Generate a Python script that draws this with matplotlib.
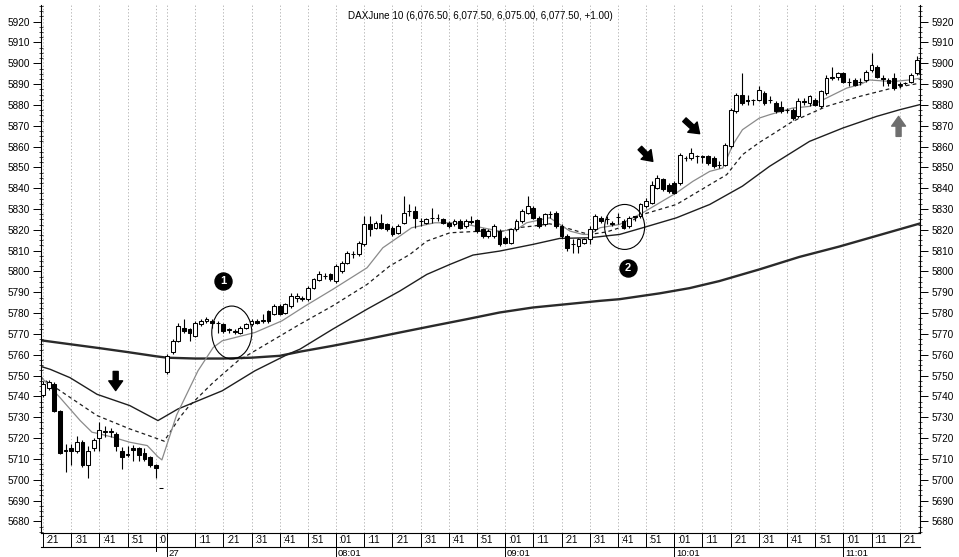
import matplotlib
matplotlib.use('Agg')
import matplotlib.pyplot as plt
from matplotlib.patches import Ellipse
from matplotlib.ticker import MultipleLocator

plt.rcParams['font.family'] = ['Liberation Sans', 'DejaVu Sans']

# ---------------- data ----------------
bar_index = list(range(-22, 134))   # 2-minute bars; 0 = first bar of the new day (07:01)

opens = [5740.5, 5744, 5746, 5733, 5714, 5715, 5714, 5718, 5707, 5715, 5720, 5723, 5723, 5722, 5714, 5712, 5715, 5715, 5713, 5711, 5707, 5696,
         5751.5, 5761.1, 5766.7, 5773, 5772.3, 5769.1, 5774.7, 5776.3, 5776.3, 5775.5,
         5774.7, 5772, 5771, 5770.7, 5773.1, 5774.7, 5776.3, 5776.3, 5781, 5779.5,
         5783.4, 5780.2, 5783.4, 5787.5, 5787, 5786.7, 5792.3, 5796, 5797.8, 5798.6,
         5795.4, 5800.2, 5804.2, 5808.2, 5808.2, 5813, 5822.6, 5821, 5823.4, 5822.6,
         5821, 5818.6, 5823.4, 5829, 5829, 5824.2, 5823.4, 5825.8, 5825.6, 5825,
         5823.4, 5822.6, 5824.2, 5821.8, 5824.2, 5824.5, 5820.2, 5817, 5817, 5819.4,
         5816.2, 5813.8, 5820.2, 5824.2, 5828.2, 5830.6, 5825.8, 5822.6, 5827.4, 5828.2,
         5821.8, 5817, 5813, 5812.2, 5813.8, 5815.4, 5820.2, 5825.8, 5825, 5823.4,
         5826, 5824.2, 5821.8, 5826.6, 5826.6, 5831.4, 5833, 5840.2, 5844.2, 5841.7,
         5842.5, 5842.5, 5854.5, 5854.5, 5855.3, 5855.3, 5855.3, 5854.5, 5851.3, 5851.3,
         5860.1, 5876.9, 5884.9, 5882.5, 5882.5, 5882.5, 5885.7, 5882.5, 5880.9, 5878.8,
         5877.7, 5877.7, 5874.5, 5881.7, 5880.9, 5882.5, 5879.3, 5885.7, 5893.6, 5893.6,
         5895.2, 5891.2, 5892, 5890.8, 5892, 5896.8, 5898.4, 5892.8, 5892, 5892.8,
         5889.7, 5890.4, 5891.2, 5895.2]
highs = [5747.5, 5748, 5747, 5733.5, 5717, 5717, 5721, 5719, 5716, 5720, 5727.5, 5726, 5725, 5723, 5715.5, 5716, 5716.5, 5715.5, 5715, 5711.5, 5707.5, 5696,
         5760.3, 5767.5, 5775.5, 5777.1, 5773.1, 5776.3, 5777.1, 5778, 5777.1, 5776,
         5775.5, 5773.1, 5772.3, 5774, 5775.5, 5777.1, 5777.1, 5779.5, 5781.5, 5784.2,
         5784.2, 5785, 5789.8, 5789.5, 5788.3, 5793.1, 5797, 5800.2, 5799.4, 5799.4,
         5803.4, 5805, 5809.8, 5809.8, 5814.6, 5826.6, 5826.6, 5824.2, 5827.4, 5823.4,
         5821.8, 5822.6, 5836.2, 5832.2, 5831.4, 5825.8, 5825.8, 5830.6, 5827.4, 5825.8,
         5824.2, 5825, 5825, 5825, 5826.6, 5825, 5821, 5820.2, 5822.6, 5820.2,
         5817, 5821, 5825, 5829.8, 5836.2, 5831.4, 5826.6, 5828.2, 5829, 5829,
         5822.6, 5817.8, 5815.4, 5816.2, 5816.2, 5821.8, 5827.4, 5826.6, 5826.6, 5824.2,
         5828.2, 5825, 5826.6, 5826.8, 5833, 5835.4, 5843.3, 5846.5, 5845, 5842.5,
         5843.3, 5856.9, 5855.3, 5859.3, 5856.1, 5856.1, 5856.1, 5855.3, 5852.9, 5861.7,
         5878.5, 5885.7, 5895.3, 5884.9, 5882.8, 5888.9, 5886.5, 5884.1, 5881.7, 5881.7,
         5878.5, 5878.5, 5883.3, 5883.3, 5884.9, 5883.3, 5887.3, 5894.4, 5898.4, 5896,
         5896, 5892.8, 5892.8, 5892.8, 5896.8, 5904.8, 5899.2, 5894.4, 5892.8, 5895.2,
         5891.2, 5891.2, 5895.2, 5903.7]
lows = [5739.5, 5743, 5732.5, 5712.5, 5703.5, 5707, 5713, 5706, 5701, 5714, 5714, 5720.5, 5720.5, 5714, 5705, 5711, 5709, 5709, 5709, 5706, 5701, 5696,
        5750.7, 5760.3, 5765.9, 5770.7, 5766.7, 5768.3, 5773.9, 5775.5, 5773.1, 5770.7,
        5770.7, 5770.7, 5769.9, 5770, 5772.3, 5773.9, 5774.7, 5775.5, 5775.5, 5779,
        5779, 5779.5, 5782.6, 5785.5, 5785.9, 5786, 5791.5, 5795.4, 5796.2, 5795.4,
        5794.6, 5799.4, 5803.4, 5806.6, 5807.4, 5812.2, 5817, 5820.2, 5820.2, 5819.4,
        5817, 5817.8, 5822.6, 5826.6, 5821, 5821.8, 5822.6, 5823.4, 5824.2, 5822.6,
        5821, 5821.8, 5820.2, 5821, 5822.6, 5818.6, 5816.2, 5816.2, 5816.2, 5812.2,
        5813, 5813, 5819.4, 5823.4, 5827.4, 5825, 5821, 5821.8, 5825.8, 5821,
        5816.2, 5809.8, 5809, 5809, 5813, 5813, 5819.4, 5823.4, 5822.6, 5821.8,
        5822.6, 5820.2, 5821, 5824.2, 5825.8, 5830.6, 5832.2, 5839.4, 5838.6, 5837.8,
        5837, 5841.7, 5852.9, 5853.7, 5852.1, 5852.1, 5851.3, 5849.7, 5849.7, 5850.5,
        5859.3, 5876.1, 5880.1, 5880.1, 5880.1, 5881.7, 5880.1, 5880.9, 5876.1, 5876.1,
        5876.1, 5872.9, 5873.7, 5880.1, 5879.3, 5879.3, 5878.5, 5884.9, 5892, 5892,
        5890.4, 5888.9, 5888.9, 5889.7, 5891.2, 5896, 5892.8, 5888.9, 5888.9, 5887.3,
        5888.1, 5889.7, 5890.4, 5894.4]
closes = [5746, 5747, 5733, 5713, 5714.5, 5714, 5718, 5707, 5714, 5719, 5724, 5723.3, 5723.2, 5716, 5711, 5712.5, 5714.5, 5712, 5710, 5707, 5705.5, 5696,
          5759.5, 5766.7, 5773.9, 5771.5, 5770.7, 5775.5, 5776.3, 5777.1, 5775.5, 5775.3,
          5771.5, 5772.2, 5771.5, 5773.1, 5774.7, 5776.3, 5775.5, 5776.5, 5776.3, 5783.4,
          5779.5, 5784.2, 5788.2, 5788, 5787.2, 5792.3, 5796.2, 5798.6, 5798, 5796.2,
          5802.6, 5804.2, 5809, 5808.5, 5813.8, 5822.6, 5820.2, 5823.4, 5821, 5820.2,
          5817.8, 5821.8, 5828.2, 5829.2, 5825.8, 5824.4, 5825, 5825.6, 5825.8, 5823.4,
          5821.8, 5824.2, 5821, 5824.2, 5824, 5819.4, 5817, 5819.4, 5821.8, 5813,
          5813.8, 5820.2, 5824.2, 5829, 5831.4, 5825.8, 5821.8, 5827.4, 5827.6, 5821.8,
          5817, 5811.4, 5813.2, 5815.4, 5815.4, 5820.2, 5826.6, 5824.2, 5825.1, 5822.6,
          5826.2, 5821, 5825.8, 5826.4, 5832.2, 5833.8, 5841.7, 5844.9, 5839.4, 5838.6,
          5837.8, 5856.1, 5854.7, 5856.9, 5855.5, 5855.1, 5852.1, 5850.5, 5851.1, 5860.9,
          5877.7, 5884.9, 5880.9, 5881.7, 5882.3, 5887.3, 5880.9, 5882.3, 5876.9, 5876.9,
          5877.5, 5873.7, 5881.7, 5881.5, 5884.1, 5880.1, 5886.5, 5892.8, 5892.8, 5895.2,
          5891.2, 5890.8, 5889.7, 5891, 5896, 5899.2, 5893.6, 5892.6, 5890.4, 5888.1,
          5889.9, 5890.4, 5894.4, 5901.6]

# moving-average lines (bar position, price)
fast_x = [-22.5, -22, -19, -15.4, -13.3, -12.4, -9.6, -6.6, -3.5, -1.6, -0.9, 1.7, 5.5, 8.2, 9.8, 15.6, 20.4, 24.5,
          29.4, 35.5, 38.3, 41.3, 43.4, 47.5, 51, 53.2, 56, 59, 62.1, 63.8, 67.9, 69.7, 71.5, 73.8, 75, 76.8,
          80.3, 84.4, 90.4, 93.3, 96.3, 98.6, 100.4, 102.1, 105.1, 106.9, 111, 114, 117, 120.6, 122.9, 124.6,
          128.7, 131.7, 133.5]
fast_y = [5749, 5748.3, 5739.5, 5728.4, 5722.8, 5722.3, 5720.4, 5718, 5716.4, 5711, 5709.5, 5731, 5752.3, 5763.5,
          5766.7, 5770.7, 5776.3, 5783.4, 5791.4, 5801.8, 5811.4, 5817, 5821, 5823.4, 5823.4, 5822.6, 5821,
          5819.4, 5820.2, 5823.4, 5825.8, 5822.6, 5819.4, 5817.8, 5817.8, 5821, 5822.6, 5828.2, 5837.8,
          5843.3, 5848.1, 5849.7, 5860.9, 5868.1, 5873.7, 5875.3, 5878.5, 5879.3, 5883.3, 5888.1, 5889.7,
          5892, 5891.2, 5892, 5892.8]
dash_x = [-22.5, -20.7, -12.4, -6.6, -1.6, -0.5, 2.3, 3.7, 8.2, 12.6, 18.6, 23.6, 29.4, 35.5, 39.5, 43.1, 46.1,
          50.2, 56, 59, 62.1, 64.9, 67.9, 69.7, 73.8, 75, 78, 80.3, 84.4, 90.4, 96.3, 99.3, 102.1, 105.1,
          106.9, 111, 117, 122.9, 128.7, 133.5]
dash_y = [5749.5, 5745.9, 5730.8, 5724.4, 5719.6, 5718.5, 5730, 5734.7, 5746.7, 5757.1, 5766.7, 5774.7, 5783.5,
          5793.8, 5802.6, 5808.2, 5814.6, 5818.6, 5819.4, 5819.1, 5821, 5821.8, 5822.9, 5821.8, 5818.6,
          5817.8, 5819, 5821, 5827.4, 5832.2, 5841.7, 5846.5, 5856.1, 5862, 5865, 5872.1, 5879.3, 5884.1,
          5888.1, 5890.4]
mid_x = [-22.5, -20.7, -17.2, -12.4, -6.6, -1.6, 1.9, 9.8, 15.6, 21.5, 23.6, 29.4, 35.5, 41.3, 46.1, 50.2, 54.3,
         59, 64.9, 69.7, 75, 80.3, 84.4, 90.4, 96.3, 102.1, 106.9, 114, 119.9, 125.9, 130, 133.5]
mid_y = [5754.5, 5753, 5749, 5741, 5735.6, 5728.4, 5733.9, 5742.7, 5752.3, 5760.3, 5762.7, 5772.3, 5781.9,
         5790.6, 5798.6, 5803.4, 5807.9, 5809.8, 5813, 5815.9, 5816.2, 5817.8, 5821, 5825.8, 5832.2, 5841,
         5850.5, 5862.5, 5868.9, 5874.5, 5877.7, 5880.1]
slow_x = [-22.5, -17, -12, -7, -2, 0, 5, 10, 15, 20, 23.6, 29.4, 35.5, 41.3, 47.2, 53.2, 59, 64.9, 70.9, 76.8,
          80.3, 87.4, 92.7, 98, 105.1, 112.2, 119.3, 126.4, 133.5]
slow_y = [5767, 5765, 5763.2, 5761.3, 5759.3, 5758.6, 5758.2, 5758.2, 5758.6, 5759.5, 5761.5, 5764.3, 5767.5,
          5770.7, 5773.9, 5777.1, 5780.3, 5782.7, 5784.3, 5785.9, 5786.7, 5789.5, 5792, 5795.4, 5801, 5807,
          5812, 5817.5, 5823]

# axis labels
upper_tick_pos = [-22, -17, -12, -7, -2, 0, 5, 10, 15, 20, 25, 30, 35, 40, 45, 50, 55, 60, 65, 70, 75, 80, 85,
                  90, 95, 100, 105, 110, 115, 120, 125, 130]
upper_tick_lab = [':21', ':31', ':41', ':51', ':0', '', ':11', ':21', ':31', ':41', ':51', ':01', ':11', ':21',
                  ':31', ':41', ':51', ':01', ':11', ':21', ':31', ':41', ':51', ':01', ':11', ':21', ':31', ':41',
                  ':51', ':01', ':11', ':21']
lower_tick_pos = [0, 30, 60, 90, 120]
lower_tick_lab = ['27', '08:01', '09:01', '10:01', '11:01']
price_ticks = list(range(5680, 5921, 10))
title_text = 'DAXJune 10 (6,076.50, 6,077.50, 6,075.00, 6,077.50, +1.00)'

# ---------------- figure ----------------
W, H = 959, 557
fig = plt.figure(figsize=(W / 100, H / 100), dpi=100)
ax = fig.add_axes([41 / W, 24 / H, 879 / W, 528 / H])
ax.set_xlim(-22.35, 133.6)
ax.set_ylim(5674.4, 5928.0)

# vertical grid
for k in upper_tick_pos:
    ax.axvline(k, color='#a8a8a8', lw=0.6, ls=(0, (1.5, 2.5)), zorder=0)

# moving averages
ax.plot(slow_x, slow_y, color='#2a2a2a', lw=1.7, zorder=2)
ax.plot(mid_x, mid_y, color='#1e1e1e', lw=1.0, zorder=2)
ax.plot(dash_x, dash_y, color='#1e1e1e', lw=0.9, ls=(0, (3, 2.5)), zorder=2)
ax.plot(fast_x, fast_y, color='#8a8a8a', lw=0.9, zorder=2)

# candles
ax.vlines(bar_index, lows, highs, color='black', lw=0.8, zorder=3)
up = [c >= o for o, c in zip(opens, closes)]
bottoms = [min(o, c) for o, c in zip(opens, closes)]
heights = [abs(c - o) for o, c in zip(opens, closes)]
ax.bar(bar_index, heights, bottom=bottoms, width=0.68,
       color=['white' if u else 'black' for u in up], edgecolor='black', linewidth=0.75, zorder=4)

# annotations: circles
ax.add_patch(Ellipse((11.5, 5770.7), 7.1, 25.4, fill=False, ec='black', lw=0.8, zorder=5))
ax.add_patch(Ellipse((81.2, 5821.4), 7.1, 21.6, fill=False, ec='black', lw=0.8, zorder=5))
for (kx, py, lab) in [(10.0, 5795.5, '1'), (81.8, 5801.9, '2')]:
    ax.scatter([kx], [py], s=150, color='black', zorder=6)
    ax.text(kx, py, lab, color='white', fontsize=8, fontweight='bold', ha='center', va='center', zorder=7)

# arrows
def arrow(tail, tip, color):
    ax.annotate('', xy=tip, xytext=tail,
                arrowprops=dict(arrowstyle='simple,head_length=7,head_width=10,tail_width=3.6',
                                mutation_scale=1, color=color, shrinkA=0, shrinkB=0), zorder=6)

arrow((-9.1, 5752.0), (-9.1, 5742.8), 'black')
arrow((83.9, 5859.3), (86.2, 5852.9), 'black')
arrow((91.8, 5872.9), (94.5, 5866.2), 'black')
arrow((129.8, 5864.9), (129.8, 5874.5), '#6e6e6e')

# y axis (both sides)
ax.set_yticks(price_ticks)
ax.set_yticklabels([str(p) for p in price_ticks])
ax.yaxis.set_minor_locator(MultipleLocator(2.5))
ax.tick_params(axis='y', which='major', direction='out', length=6, width=0.7, pad=2,
               labelsize=7.2, left=True, right=True, labelleft=True, labelright=True)
ax.tick_params(axis='y', which='minor', direction='inout', length=3, width=0.5,
               left=True, right=True)
ax.set_xticks([])
ax.spines['top'].set_visible(False)
for s in ['left', 'right', 'bottom']:
    ax.spines[s].set_linewidth(0.8)

# x axis label row
trans = ax.get_xaxis_transform()
row_h = 14 / 528
ax.plot([0, 1], [-row_h, -row_h], transform=ax.transAxes, color='black', lw=0.8, clip_on=False)
for k, lab in zip(upper_tick_pos, upper_tick_lab):
    ax.plot([k, k], [0, -row_h], transform=trans, color='black', lw=0.7, clip_on=False)
    if lab:
        ax.text(k + 0.45, -row_h / 2, lab, transform=trans, fontsize=7, ha='left', va='center')
for k, lab in zip(lower_tick_pos, lower_tick_lab):
    ax.plot([k, k], [0, -26 / 528], transform=trans, color='black', lw=0.7, clip_on=False)
    ax.text(k + 0.3, -20.5 / 528, lab, transform=trans, fontsize=6.8, ha='left', va='center')
ax.plot([-2, -2], [0, -18 / 528], transform=trans, color='black', lw=0.7, clip_on=False)

fig.text(480 / W, 1 - 16 / H, title_text, fontsize=7.1, ha='center', va='center')

fig.savefig('out.png', dpi=100)
